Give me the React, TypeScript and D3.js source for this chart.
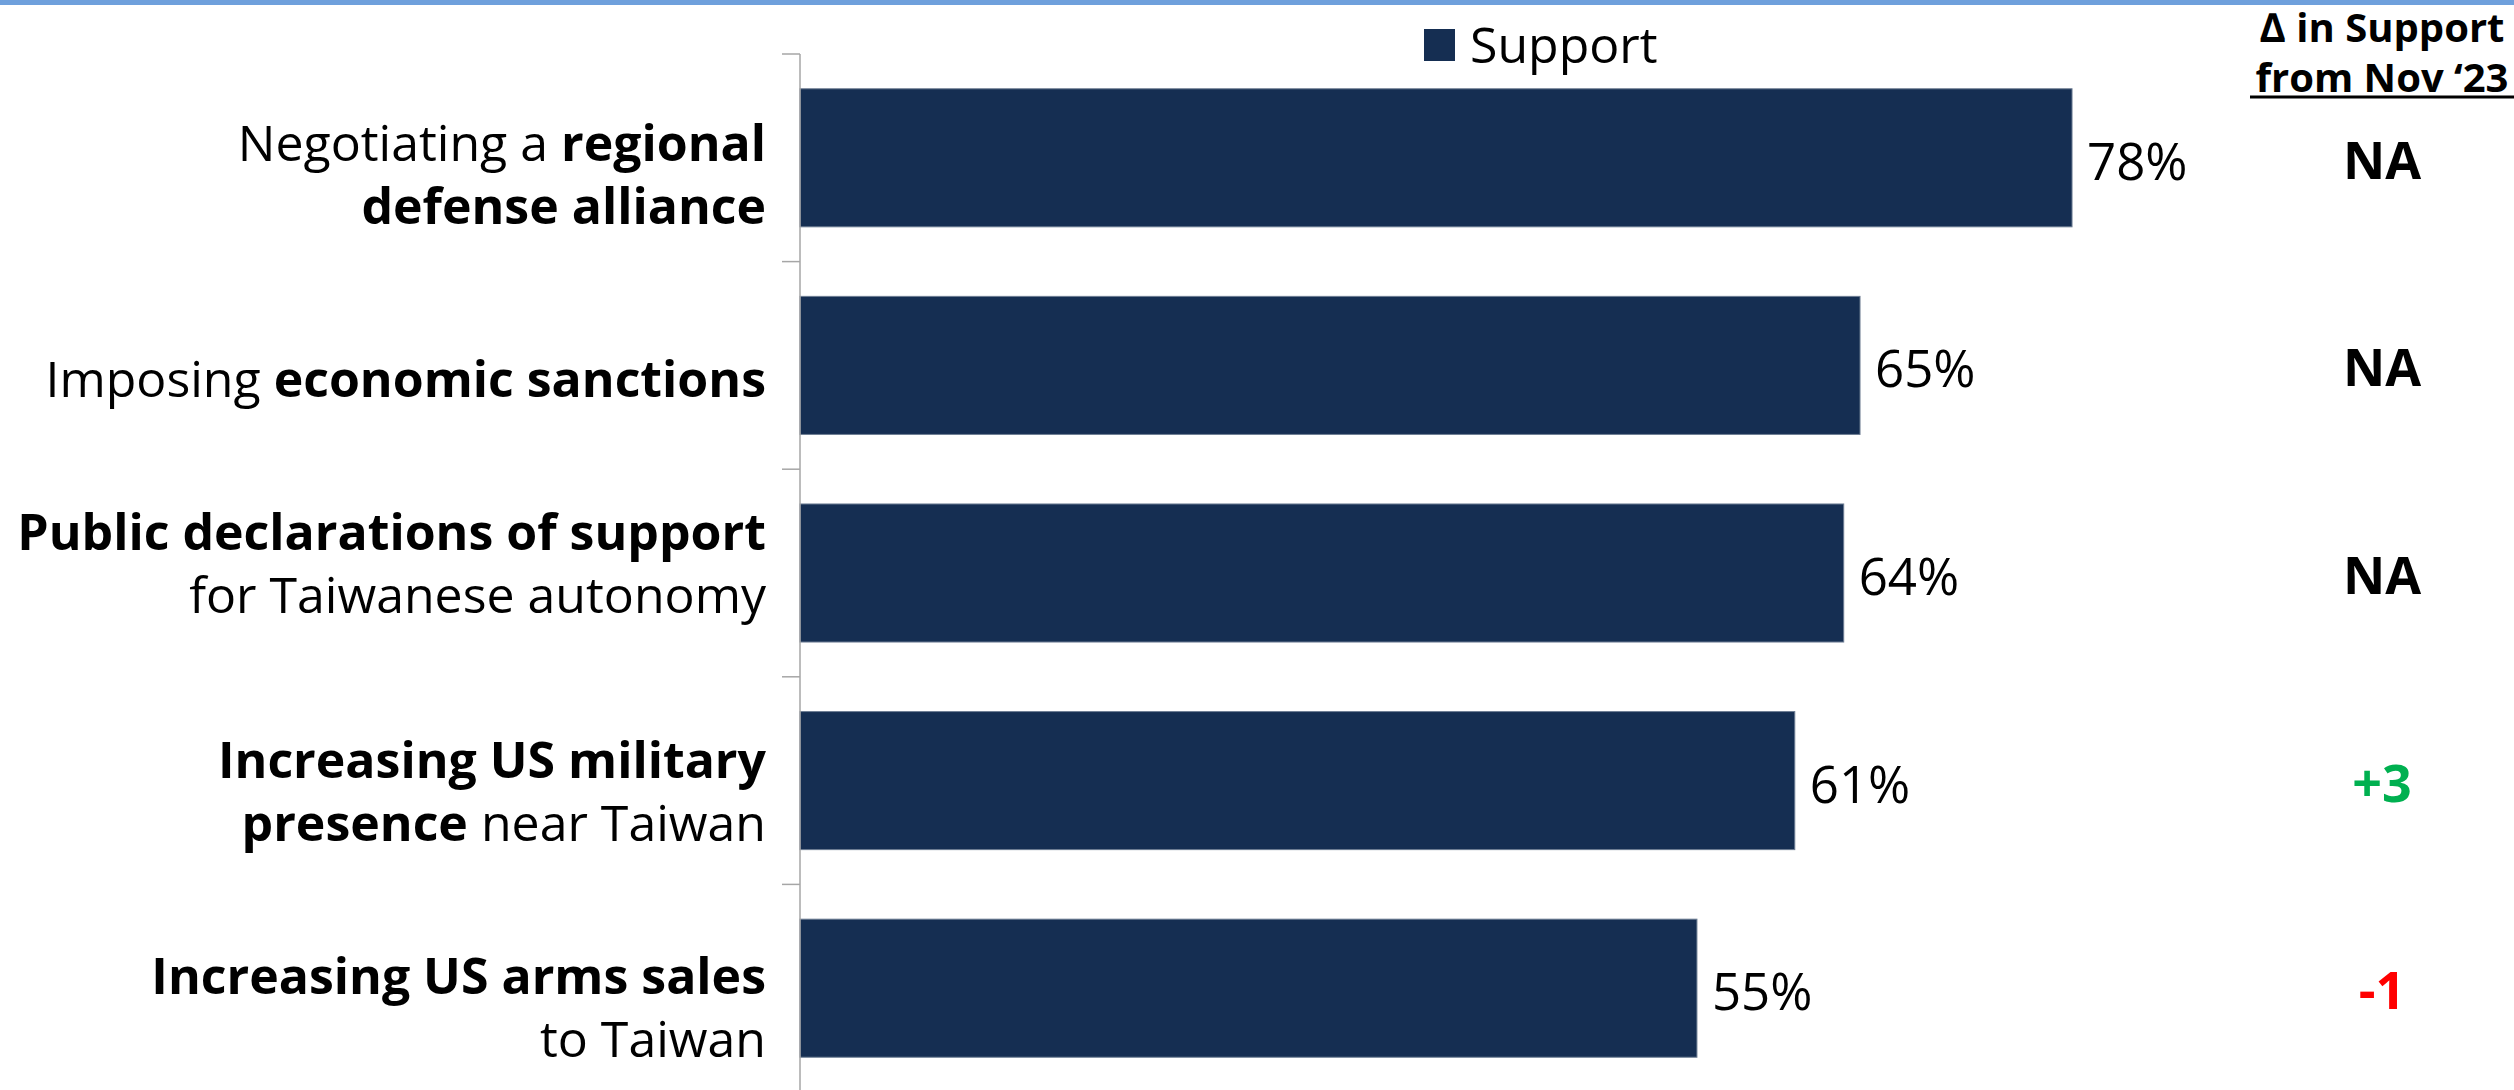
import React, { useEffect } from "react";
import * as d3 from "d3";

// ---------- data ----------
const categories = [
  "Negotiating a regional defense alliance",
  "Imposing economic sanctions",
  "Public declarations of support for Taiwanese autonomy",
  "Increasing US military presence near Taiwan",
  "Increasing US arms sales to Taiwan",
];
// rich label lines: [text, bold]
const categoryLines: [string, boolean][][][] = [
  [[["Negotiating a ", false], ["regional", true]], [["defense alliance", true]]],
  [[["Imposing ", false], ["economic sanctions", true]]],
  [[["Public declarations of support", true]], [["for Taiwanese autonomy", false]]],
  [[["Increasing US military", true]], [["presence", true], [" near Taiwan", false]]],
  [[["Increasing US arms sales", true]], [["to Taiwan", false]]],
];
const supportValues = [78, 65, 64, 61, 55];
const deltaValues = ["NA", "NA", "NA", "+3", "-1"];
const seriesName = "Support";
const deltaHeader = ["\u2206 in Support", "from Nov \u201823"];

// ---------- layout ----------
const W = 2514;
const H = 1090;
const axisX = 800;
const plotTop = 54;
const step = 207.6;
const labelFirstBaseline = [3, 32, -23, -2.5, 5.5]; // relative to band centre
const lineGap = 63;
const deltaX = 2382;
const barColor = "#152e52";
const FONT = "'Open Sans', 'Noto Sans', sans-serif";

export default function App() {
  useEffect(() => {
    document.body.style.margin = "0";
    document.body.style.overflow = "hidden";
  }, []);

  const x = d3.scaleLinear().domain([0, 100]).range([axisX, axisX + 1630.8]);
  const y = d3
    .scaleBand<string>()
    .domain(categories)
    .range([plotTop, plotTop + step * categories.length])
    .paddingInner(0.335)
    .paddingOuter(0.1675);
  const bw = y.bandwidth();
  const ticks = d3.range(categories.length + 1).map((i) => plotTop + i * y.step());

  const deltaColor = (d: string) =>
    d.startsWith("+") ? "#00b050" : d.startsWith("-") ? "#ff0000" : "#000";

  return (
    <svg
      width={W}
      height={H}
      style={{ position: "absolute", left: 0, top: 0, background: "#fff" }}
      fontFamily={FONT}
    >
      <rect x={0} y={0} width={W} height={5} fill="#6fa0dc" />

      {/* legend */}
      <rect x={1424} y={29} width={31} height={32} fill={barColor} />
      <text x={1470} y={63} fontSize={50} fill="#000">
        {seriesName}
      </text>

      {/* delta header */}
      {deltaHeader.map((t, i) => (
        <text
          key={t}
          x={deltaX}
          y={42 + i * 50}
          fontSize={40}
          fontWeight="bold"
          textAnchor="middle"
          fill="#000"
        >
          {t}
        </text>
      ))}
      <line x1={2250} x2={W} y1={97} y2={97} stroke="#000" strokeWidth={3} />

      {/* bars */}
      {categories.map((c, i) => (
        <rect
          key={c}
          x={x(0)}
          y={y(c)!}
          width={x(supportValues[i]) - x(0)}
          height={bw}
          fill={barColor}
          stroke="#6d7d93"
          strokeWidth={1}
        />
      ))}

      {/* axis */}
      <line x1={axisX} x2={axisX} y1={ticks[0]} y2={H + 5} stroke="#a6a6a6" strokeWidth={1.5} />
      {ticks.map((t, i) => (
        <line key={i} x1={782} x2={axisX} y1={t} y2={t} stroke="#a6a6a6" strokeWidth={1.5} />
      ))}

      {/* category labels */}
      {categories.map((c, i) => {
        const cy = y(c)! + bw / 2;
        return categoryLines[i].map((line, li) => (
          <text
            key={c + li}
            x={766}
            y={cy + labelFirstBaseline[i] + li * lineGap}
            fontSize={50}
            textAnchor="end"
            fill="#000"
          >
            {line.map(([t, b], k) => (
              <tspan key={k} fontWeight={b ? "bold" : "normal"} xmlSpace="preserve">
                {t}
              </tspan>
            ))}
          </text>
        ));
      })}

      {/* value labels */}
      {categories.map((c, i) => (
        <text
          key={c + "v"}
          x={x(supportValues[i]) + 15}
          y={y(c)! + bw / 2 + 22}
          fontSize={51}
          fill="#000"
        >
          {supportValues[i] + "%"}
        </text>
      ))}

      {/* delta values */}
      {categories.map((c, i) => (
        <text
          key={c + "d"}
          x={deltaX}
          y={y(c)! + bw / 2 + 21}
          fontSize={52}
          fontWeight="bold"
          textAnchor="middle"
          fill={deltaColor(deltaValues[i])}
        >
          {deltaValues[i]}
        </text>
      ))}
    </svg>
  );
}
